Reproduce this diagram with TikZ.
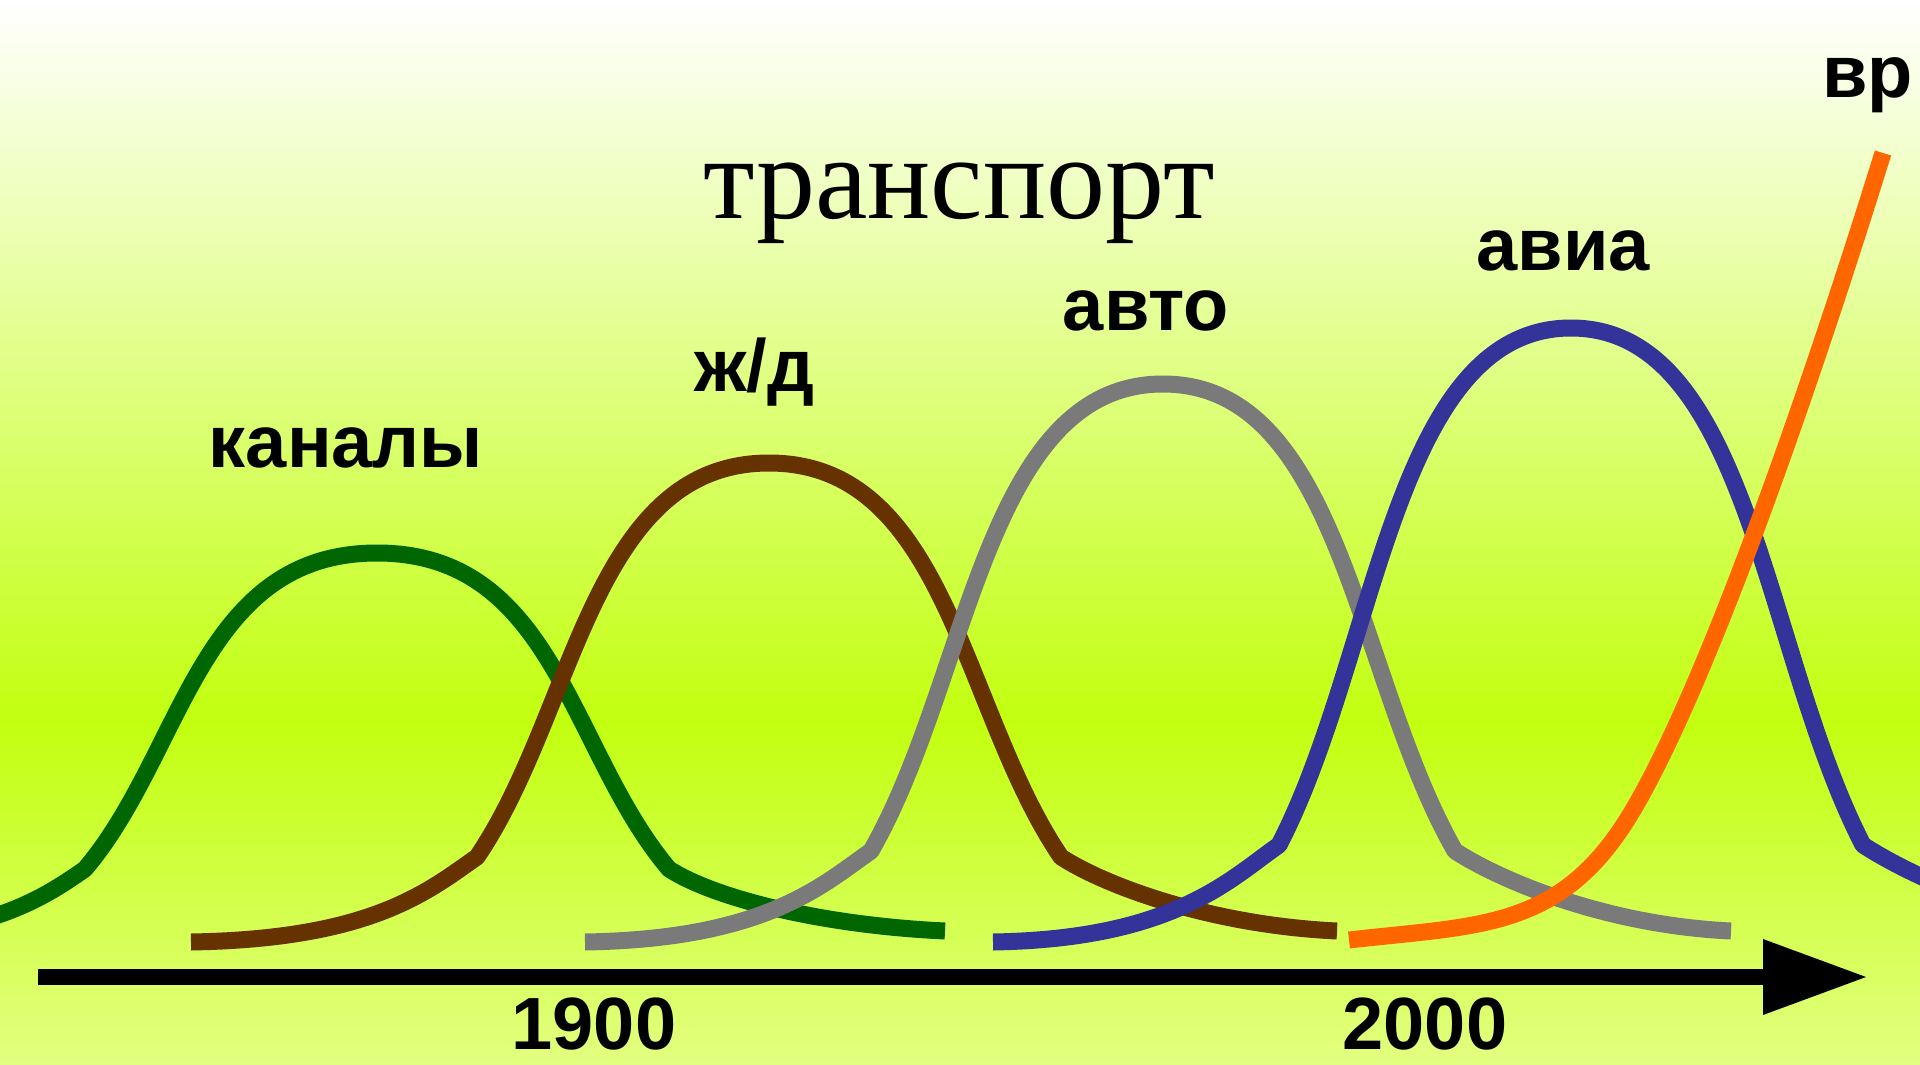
\documentclass[tikz,border=0pt]{standalone}
\usepackage{fontspec}
\setmainfont{Liberation Serif}
\newfontfamily\lblfont{Liberation Sans}
\usetikzlibrary{arrows.meta}

\definecolor{bgtop}{RGB}{255,255,255}
\definecolor{bgmid}{RGB}{194,255,15}
\definecolor{bgbot}{RGB}{226,255,128}
\definecolor{cgreen}{RGB}{0,102,0}
\definecolor{cbrown}{RGB}{102,51,0}
\definecolor{cgray}{RGB}{122,122,122}
\definecolor{cblue}{RGB}{51,51,153}
\definecolor{corange}{RGB}{255,102,0}

\tikzset{
  curve/.style={line width=17pt, line join=round},
  lbl/.style={font=\lblfont\bfseries\fontsize{74}{80}\selectfont, inner sep=0pt, anchor=base},
  ttl/.style={font=\fontsize{118}{120}\selectfont, inner sep=0pt, anchor=base},
}

% color, peak x, peak y, knee y
\newcommand\drawbell[4]{%
  \pgfmathsetmacro\hh{#4-#3}%
  \draw[curve,#1] ({#2-578},942) .. controls ({#2-398},939) and ({#2-342},{#4+35}) .. ({#2-292},#4)
    .. controls ({#2-193},{#4-0.37*\hh}) and ({#2-178},#3) .. (#2,#3)
    .. controls ({#2+178},#3) and ({#2+193},{#4-0.37*\hh}) .. ({#2+292},#4)
    .. controls ({#2+335},{#4+28}) and ({#2+440},925) .. ({#2+568},931);
}

\begin{document}
\begin{tikzpicture}[x=1pt,y=-1pt]
\useasboundingbox (0,0) rectangle (1920,1065);
\shade[top color=bgtop, bottom color=bgmid] (0,0) rectangle (1920,722);
\shade[top color=bgmid, bottom color=bgbot] (0,720) rectangle (1920,1065);
\clip (0,0) rectangle (1920,1065);

\node[ttl] (title) at (959,218) {транспорт};

\drawbell{cgreen}{377}{553}{869}
\drawbell{cbrown}{769}{463}{857}
\drawbell{cgray}{1163}{384}{851}
\drawbell{cblue}{1571}{328}{845}
\draw[curve,corange] (1349,940) .. controls (1480,925) and (1560,930) .. (1630,815)
  .. controls (1700,700) and (1800,420) .. (1883,153);

\node[lbl] (kanaly) at (346,467) {каналы};
\node[lbl] (zhd) at (754,391) {ж/д};
\node[lbl] (avto) at (1146,330) {авто};
\node[lbl] (avia) at (1563,270) {авиа};
\node[lbl, anchor=base west] (vr) at (1822,97) {вр};

\coordinate (axS) at (38,977);
\coordinate (axH) at (1764,977);
\coordinate (axE) at (1866,977);
\coordinate (axT) at (1763,939);
\coordinate (axB) at (1763,1015);
\draw[line width=16pt] (axS) -- (axH);
\fill (axT) -- (axE) -- (axB) -- cycle;

\node[lbl, text depth=0pt] (y1900) at (594,1049) {1900};
\node[lbl, text depth=0pt] (y2000) at (1425,1049) {2000};
\end{tikzpicture}
\end{document}
